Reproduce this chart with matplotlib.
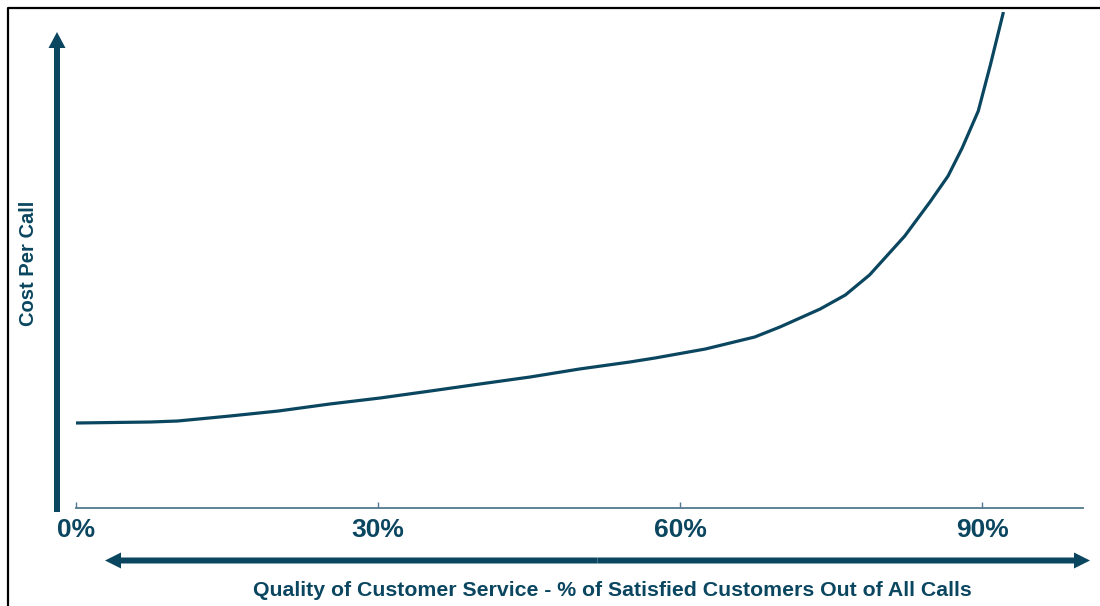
import matplotlib
matplotlib.use("Agg")
import matplotlib.pyplot as plt
import matplotlib.patches as mpatches
from matplotlib.lines import Line2D
from matplotlib.transforms import IdentityTransform

# values (cost in arbitrary units)
quality = [0, 7.4, 10.1, 15.3, 20.1, 25.2, 30.2, 35.2, 40.1, 45.1, 50.0, 55.0, 57.5,
           62.5, 67.4, 69.9, 73.9, 76.4, 78.8, 82.3, 84.8, 86.6, 88.0, 89.6, 90.8, 92.1]
cost = [85, 86, 87, 92, 97, 104, 110, 117, 124, 131, 139, 146, 150,
        159, 171, 181, 199, 213, 233, 272, 306, 332, 360, 397, 443, 496]
tick_pos = [0, 30, 60, 90]
tick_labels = ["0%", "30%", "60%", "90%"]

DARK = "#0b4660"
AXIS = "#52798f"

plt.rcParams["font.family"] = ["Liberation Sans", "DejaVu Sans"]

fig = plt.figure(figsize=(11, 6.06), dpi=100)
ax = fig.add_axes([76 / 1100, 98 / 606, 1007 / 1100, 496 / 606])

ax.plot(quality, cost, color=DARK, lw=2.3, solid_capstyle="butt")
ax.set_xlim(0, 100)
ax.set_ylim(0, 496)

for side in ["top", "right", "left"]:
    ax.spines[side].set_visible(False)
ax.spines["bottom"].set_color(AXIS)
ax.spines["bottom"].set_linewidth(1.3)
ax.set_yticks([])
ax.set_xticks(tick_pos)
ax.set_xticklabels(tick_labels, fontsize=19, fontweight="bold", color=DARK)
ax.tick_params(axis="x", direction="in", length=4, width=1, color=AXIS, pad=7)

# hand-drawn style arrows, in pixel coords (origin bottom-left)
px = IdentityTransform()
fig.add_artist(mpatches.FancyArrow(57, 94, 0, 574 - 94, width=6, head_width=17,
                                   head_length=16, length_includes_head=True,
                                   color=DARK, transform=px, lw=0))
mid = (105 + 1090) / 2
for end in (105, 1090):
    fig.add_artist(mpatches.FancyArrow(mid, 45.5, end - mid, 0, width=6, head_width=16,
                                       head_length=16, length_includes_head=True,
                                       color=DARK, transform=px, lw=0))

fig.text(28 / 1100, 1 - 263 / 606, "Cost Per Call", rotation=90, ha="center", va="center",
         fontsize=14.5, fontweight="bold", color=DARK)
fig.text(612 / 1100, 1 - 591 / 606,
         "Quality of Customer Service - % of Satisfied Customers Out of All Calls",
         ha="center", va="center", fontsize=15.3, fontweight="bold", color=DARK)

# frame (only top and left edges fall inside the image)
fig.add_artist(Line2D([7.5, 7.5, 1100], [0, 598.5, 598.5], color="black", lw=1.6,
                      transform=px))

fig.savefig("out.png", dpi=100)
